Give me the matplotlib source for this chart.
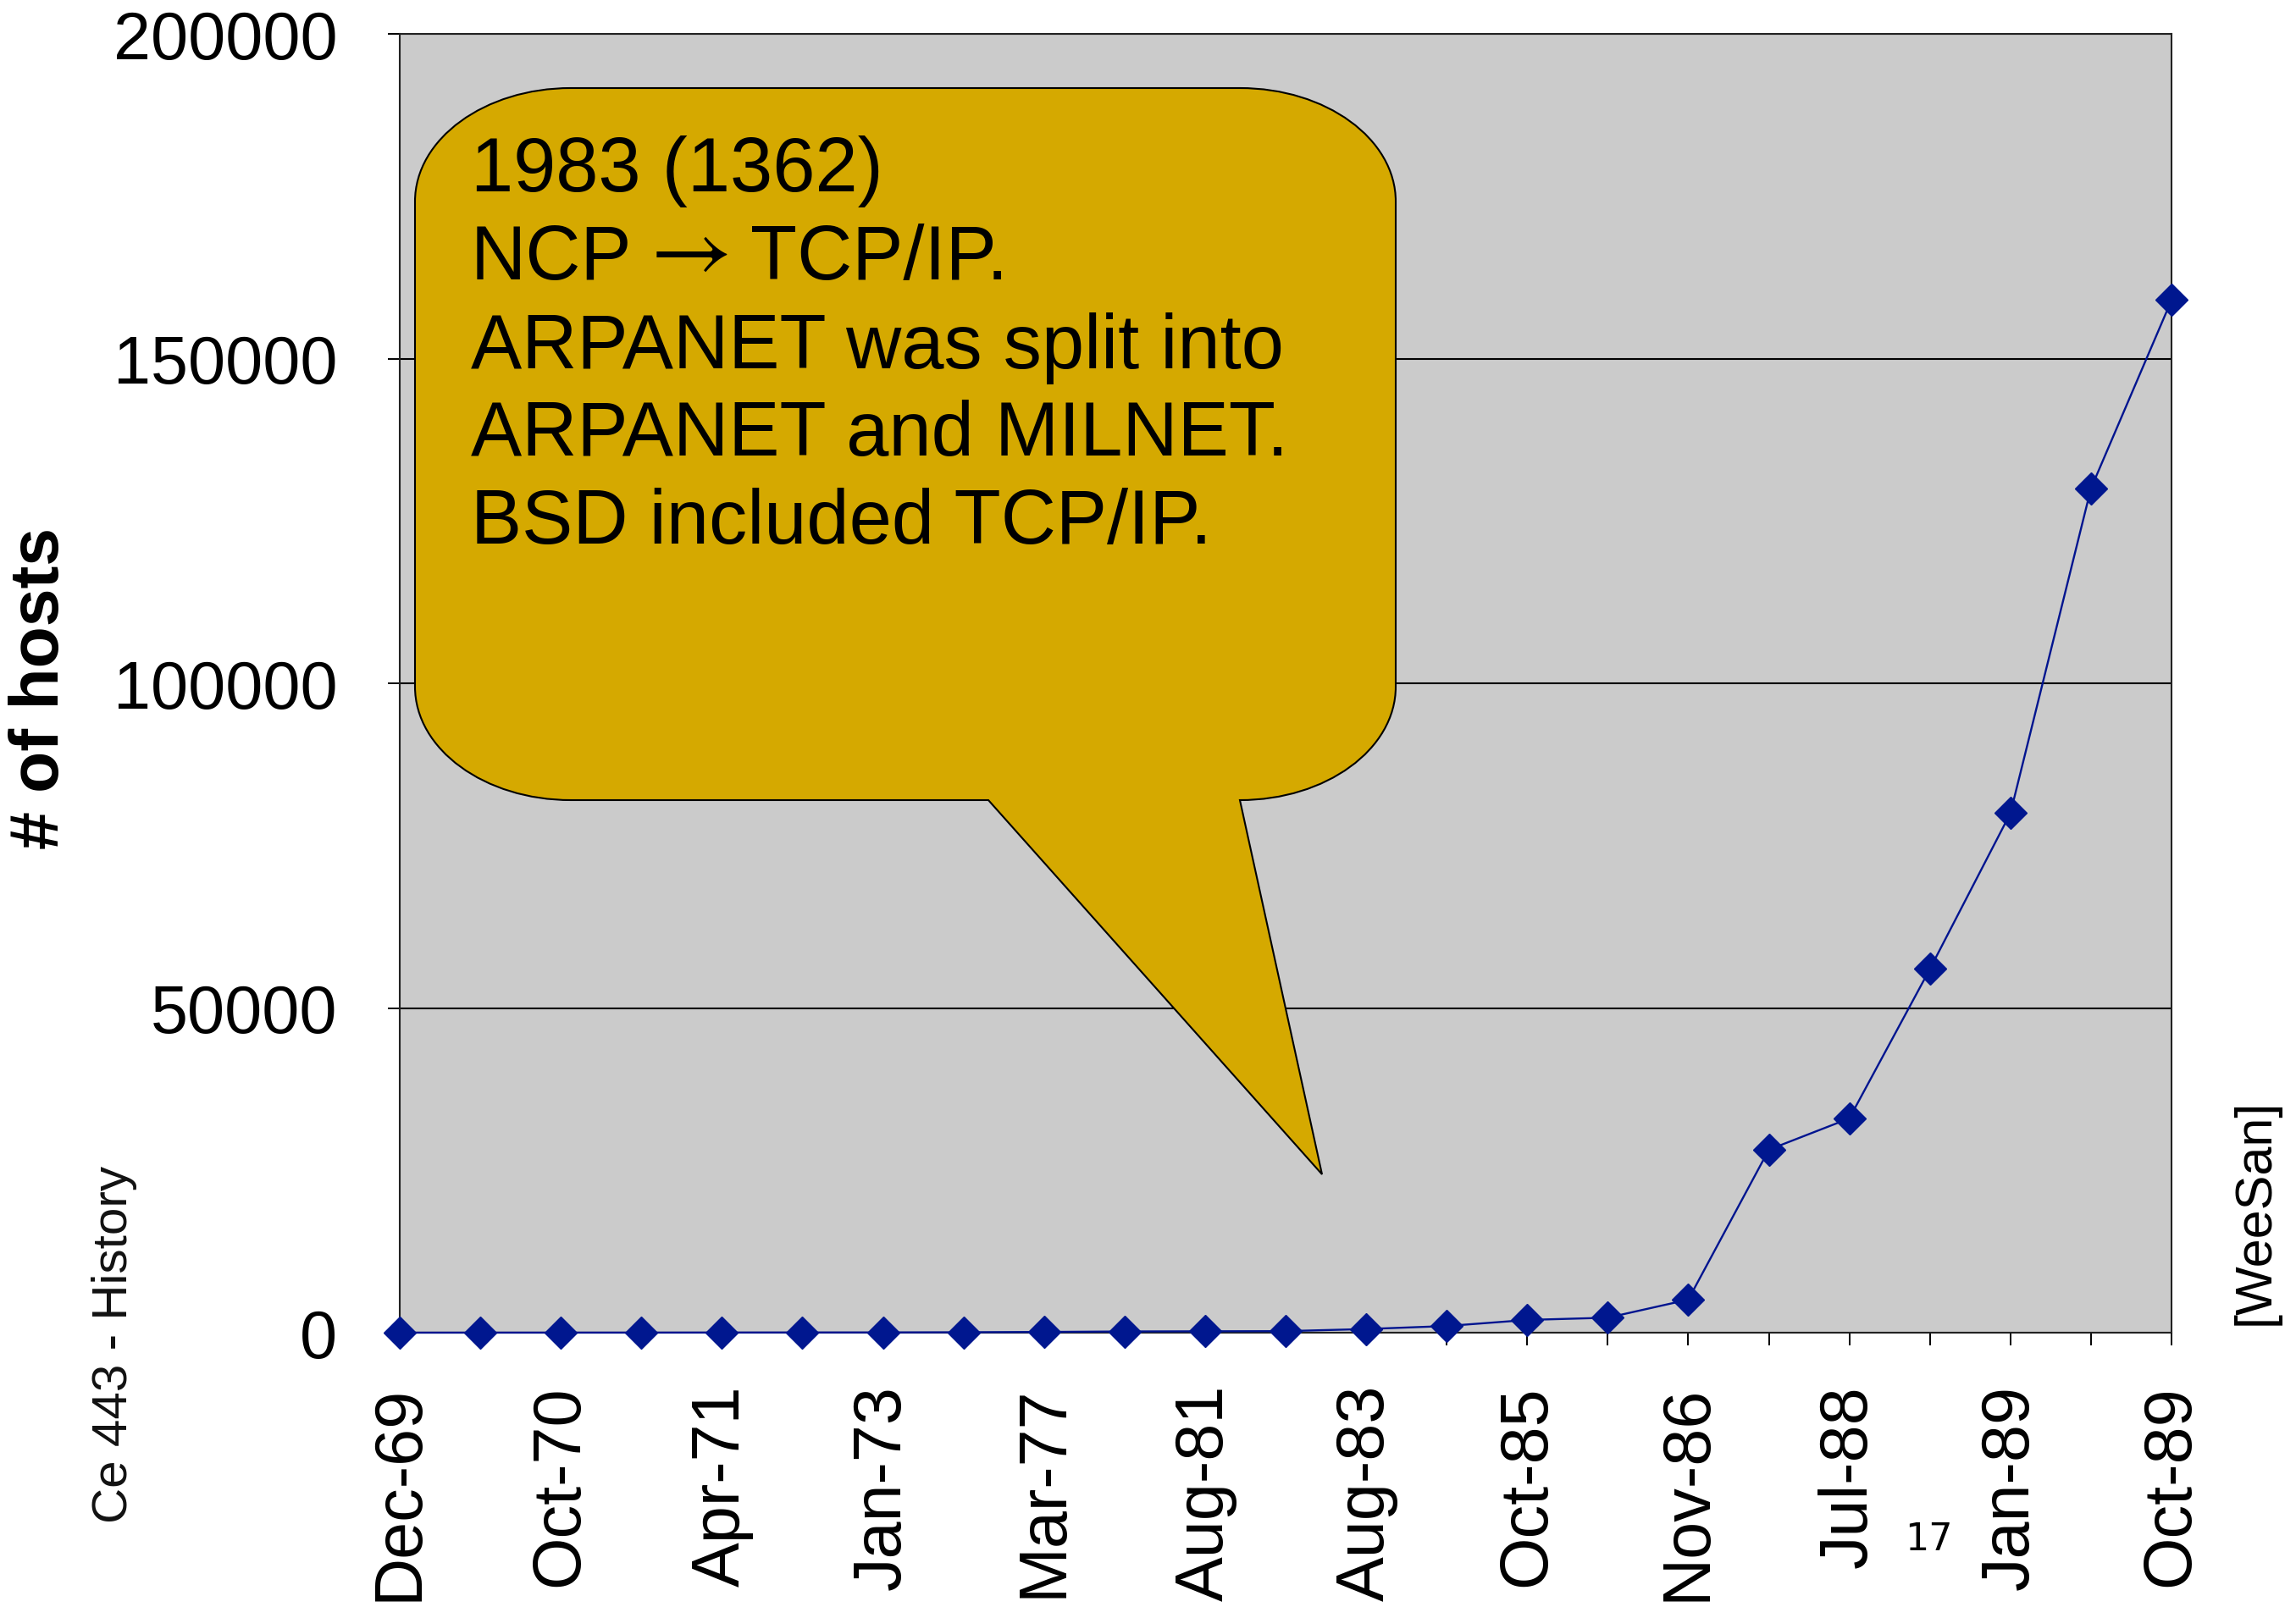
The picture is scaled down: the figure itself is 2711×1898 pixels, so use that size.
import matplotlib
matplotlib.use("Agg")
import matplotlib.pyplot as plt
from matplotlib.path import Path
from matplotlib.patches import PathPatch
from matplotlib.transforms import Affine2D

# ---------------- data ----------------
categories = ["Dec-69", "Jun-70", "Oct-70", "Dec-70", "Apr-71", "Oct-72", "Jan-73",
              "Jun-74", "Mar-77", "Dec-79", "Aug-81", "May-82", "Aug-83", "Oct-84",
              "Oct-85", "Feb-86", "Nov-86", "Dec-87", "Jul-88", "Oct-88", "Jan-89",
              "Jul-89", "Oct-89"]
hosts = [4, 9, 11, 13, 23, 31, 35, 62, 111, 188, 213, 235, 562, 1024, 1961, 2308,
         5089, 28174, 33000, 56000, 80000, 130000, 159000]
y_ticks = [0, 50000, 100000, 150000, 200000]
y_label = "# of hosts"
callout_lines = ["1983 (1362)", None, "ARPANET was split into",
                 "ARPANET and MILNET.", "BSD included TCP/IP."]
arrow_parts = ["NCP", r"$\rightarrow$", "TCP/IP."]
side_left = "Ce 443 - History"
side_right = "[WeeSan]"
page_no = "17"

# ---------------- style ----------------
W, H = 2711, 1899
FONT = ["Liberation Sans", "DejaVu Sans"]
plt.rcParams["font.family"] = FONT
plt.rcParams["mathtext.fontset"] = "stix"

fig = plt.figure(figsize=(W / 100, H / 100), dpi=100)
fig.patch.set_facecolor("white")

ax_l, ax_r, ax_t, ax_b = 472, 2564, 41, 1575
ax = fig.add_axes([ax_l / W, 1 - ax_b / H, (ax_r - ax_l) / W, (ax_b - ax_t) / H])
ax.set_facecolor("#CBCBCB")

x = list(range(len(categories)))
ax.plot(x, hosts, color="#00148F", lw=1.7, marker="D", markersize=19.5,
        markerfacecolor="#00178F", markeredgecolor="#00178F", clip_on=False, zorder=3)

ax.set_xlim(0, len(categories) - 1)
ax.set_ylim(0, 200000)
ax.set_yticks(y_ticks)
ax.set_yticklabels([str(v) for v in y_ticks])
ax.set_xticks(x)
ax.set_xticklabels([c if i % 2 == 0 else "" for i, c in enumerate(categories)],
                   rotation=90)

ax.yaxis.grid(True, color="black", lw=1.5)
ax.set_axisbelow(True)
for s in ax.spines.values():
    s.set_linewidth(1.5)
    s.set_color("#222222")

ax.tick_params(axis="x", direction="out", length=11, width=1.4, pad=33,
               labelsize=57, colors="black")
ax.tick_params(axis="y", direction="out", length=10, width=1.4, pad=43,
               labelsize=57, colors="black")

# ---------------- annotations (pixel coordinates, y from top) ----------------
px = Affine2D().scale(1 / W, -1 / H).translate(0, 1) + fig.transFigure

L, R, T, B = 490, 1648, 105, 946
rx, ry = 184, 134
k = 0.5523
tail_left, tip = (1167, B), (1561, 1388)
verts = [
    (L + rx, T),
    (R - rx, T),
    (R - rx + k * rx, T), (R, T + ry - k * ry), (R, T + ry),
    (R, B - ry),
    (R, B - ry + k * ry), (R - rx + k * rx, B), (R - rx, B),
    tip,
    tail_left,
    (L + rx, B),
    (L + rx - k * rx, B), (L, B - ry + k * ry), (L, B - ry),
    (L, T + ry),
    (L, T + ry - k * ry), (L + rx - k * rx, T), (L + rx, T),
    (L + rx, T),
]
codes = [Path.MOVETO, Path.LINETO,
         Path.CURVE4, Path.CURVE4, Path.CURVE4,
         Path.LINETO,
         Path.CURVE4, Path.CURVE4, Path.CURVE4,
         Path.LINETO, Path.LINETO, Path.LINETO,
         Path.CURVE4, Path.CURVE4, Path.CURVE4,
         Path.LINETO,
         Path.CURVE4, Path.CURVE4, Path.CURVE4,
         Path.CLOSEPOLY]
bubble = PathPatch(Path(verts, codes), facecolor="#D5A900", edgecolor="black",
                   lw=1.5, transform=px, zorder=5)
fig.add_artist(bubble)

baselines = [226, 330, 435, 538, 642]
TX = 556
for line, yb in zip(callout_lines, baselines):
    if line is None:
        continue
    fig.text(TX, yb, line, transform=px, fontsize=65, ha="left", va="baseline",
             color="black", zorder=6, family=FONT)

# second line: "NCP → TCP/IP." with a long thin arrow
yb = baselines[1]
fig.text(TX, yb, arrow_parts[0], transform=px, fontsize=65, ha="left",
         va="baseline", zorder=6, family=FONT)
fig.text(752, yb - 4, arrow_parts[1], transform=px, fontsize=76, ha="left",
         va="baseline", zorder=6)
fig.text(886, yb, arrow_parts[2], transform=px, fontsize=65, ha="left",
         va="baseline", zorder=6, family=FONT)

fig.text(48, 813, y_label, transform=px, rotation=90, fontsize=58,
         fontweight="bold", ha="center", va="center")
fig.text(135, 1588, side_left, transform=px, rotation=90, fontsize=42,
         ha="center", va="center", color="#111111")
fig.text(2663, 1431, side_right, transform=px, rotation=90, fontsize=44,
         ha="center", va="center")
fig.text(2277, 1819, page_no, transform=px, fontsize=32, ha="center", va="center",
         family="DejaVu Sans")

fig.savefig("out.png", dpi=100, facecolor="white")
